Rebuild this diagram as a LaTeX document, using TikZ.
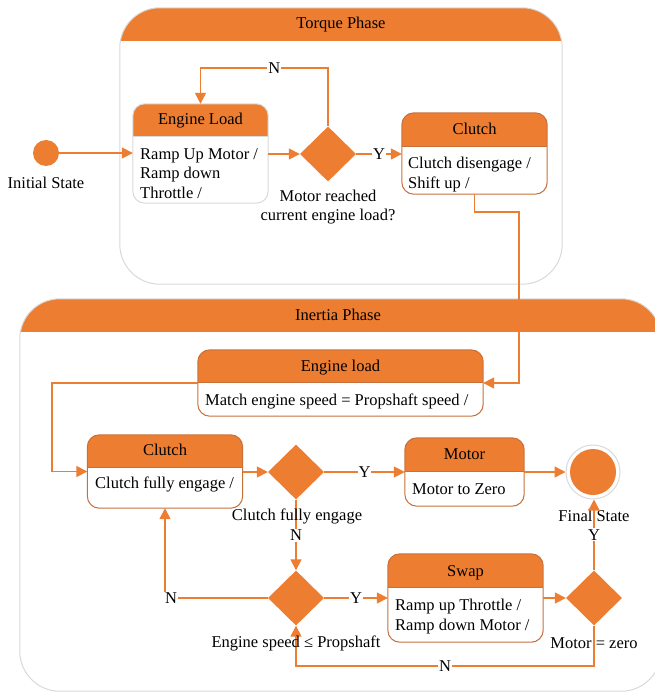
\documentclass[tikz,border=0pt]{standalone}
\usepackage{fontspec}
\setmainfont{Liberation Serif}
\usetikzlibrary{shapes.geometric, arrows.meta, positioning}

\definecolor{phase}{HTML}{ED7D31}
\definecolor{edge}{HTML}{C8703A}
\definecolor{frame}{HTML}{D9D9D9}
\newcommand{\fs}{\fontsize{16.5}{19.5}\selectfont}

\begin{document}
\begin{tikzpicture}[
    x=1pt, y=-1pt,
    font=\fs,
    box/.style={rectangle, inner sep=0pt},
    choice/.style={diamond, fill=phase, inner sep=0pt, minimum width=56pt, minimum height=55pt},
    flow/.style={-{Triangle[length=11pt,width=11pt]}, draw=phase, line width=1.6pt},
    lbl/.style={fill=white, inner sep=1pt, text height=11pt, text depth=0pt},
    title/.style={inner sep=0pt, text height=11pt, text depth=3.5pt},
    body/.style={anchor=north west, align=left, inner sep=0pt},
    note/.style={inner sep=0pt, align=center}
]
    \useasboundingbox (0,0) rectangle (654,692);

    % phases
    \node[box, minimum width=442, minimum height=276] (torque) at (341,146) {};
    \node[box, minimum width=641, minimum height=392] (inertia) at (340.5,495) {};
    \foreach \n in {torque, inertia} {
        \begin{scope}
            \clip[rounded corners=40] (\n.south west) rectangle (\n.north east);
            \fill[phase] (\n.north west) rectangle ([yshift=-33pt]\n.north east);
        \end{scope}
        \draw[frame, line width=1pt, rounded corners=40] (\n.south west) rectangle (\n.north east);
    }
    \node[title] (ttorque) at (341,25) {Torque Phase};
    \node[title] (tinertia) at (338,317) {Inertia Phase};

    % states
    \node[box, minimum width=135, minimum height=99] (el1) at (200.5,153.5) {};
    \node[box, minimum width=145, minimum height=81] (cl1) at (474.5,153.5) {};
    \node[box, minimum width=285, minimum height=66] (el2) at (340.5,383) {};
    \node[box, minimum width=155, minimum height=73] (cl2) at (165,471.5) {};
    \node[box, minimum width=119, minimum height=68] (mo) at (464.5,472) {};
    \node[box, minimum width=155, minimum height=88] (sw) at (465.5,598) {};
    \foreach \n/\h/\c in {el1/33/frame, cl1/34/edge, el2/33/edge, cl2/33/edge, mo/34/edge, sw/34/edge} {
        \begin{scope}
            \clip[rounded corners=12] (\n.south west) rectangle (\n.north east);
            \fill[phase] (\n.north west) rectangle ([yshift=-\h pt]\n.north east);
        \end{scope}
        \draw[\c, line width=1pt, rounded corners=12] (\n.south west) rectangle (\n.north east);
        \draw[\c, line width=1pt] ([yshift=-\h pt]\n.north west) -- ([yshift=-\h pt]\n.north east);
    }
    \node[title] (el1t) at (200.5,121) {Engine Load};
    \node[title] (cl1t) at (474.5,131) {Clutch};
    \node[title] (el2t) at (340.5,368) {Engine load};
    \node[title] (cl2t) at (165,452) {Clutch};
    \node[title] (mot) at (464.5,456) {Motor};
    \node[title] (swt) at (465.5,573) {Swap};

    \node[body] (el1b) at (140,148) {Ramp Up Motor /\\Ramp down\\Throttle /};
    \node[body] (cl1b) at (408,157) {Clutch disengage /\\Shift up /};
    \node[body] (el2b) at (205,394) {Match engine speed = Propshaft speed /};
    \node[body] (cl2b) at (95,477) {Clutch fully engage /};
    \node[body] (mob) at (412,483) {Motor to Zero};
    \node[body] (swb) at (395,599) {Ramp up Throttle /\\Ramp down Motor /};

    % start, end and choices
    \node[circle, fill=phase, inner sep=0pt, minimum size=26pt] (init) at (46,153) {};
    \node[circle, draw=frame, line width=1pt, inner sep=0pt, minimum size=54pt] (fin) at (593,472) {};
    \fill[phase] (fin.center) circle (23pt);
    \node[choice] (d1) at (328,154) {};
    \node[choice] (d2) at (296,472) {};
    \node[choice] (d3) at (296,598) {};
    \node[choice] (d4) at (594,598) {};

    \node[note] (linit) at (46,183) {Initial State};
    \node[note] (ld1) at (328,207) {Motor reached\\current engine load?};
    \node[note] (lfin) at (594,516) {Final State};

    % connectors
    \draw[flow] (init) -- (init -| el1.west);
    \draw[flow] (el1.east |- d1) -- (d1.west);
    \draw[flow] (d1.north) -- ++(0,-58) -| node[lbl, pos=0.21] (n1) {N} (el1.north);
    \draw[flow] (d1.east) -- node[lbl] (y1) {Y} (d1.east -| cl1.west);
    \coordinate (c1) at (519,212);
    \draw[flow] (cl1.south) |- (c1) |- (el2.east);
    \coordinate (c2) at (52,383);
    \draw[flow] (el2.west) -- (c2) |- (cl2.west);
    \draw[flow] (cl2.east |- d2) -- (d2.west);
    \draw[flow] (d2.east) -- node[lbl] (y2) {Y} (mo.west);
    \draw[flow] (mo.east) -- (fin.west);
    \draw[flow] (d2.south) -- node[lbl] (n2) {N} (d3.north);
    \draw[flow] (d3.west) -| node[lbl, pos=0.47] (n4) {N} (cl2.south);
    \draw[flow] (d3.east) -- node[lbl] (y3) {Y} (sw.west);
    \draw[flow] (sw.east) -- (d4.west);
    \draw[flow] (d4.north) -- node[lbl] (y4) {Y} (d4.north |- fin.south);
    \draw[flow] (d4.south) -- ++(0,40) -| node[lbl, pos=0.25] (n3) {N} (d3.south);

    \node[note] (ld2) at (297,516) {Clutch fully engage};
    \node[note] (ld3) at (296,643) {Engine speed ≤ Propshaft};
    \node[note] (ld4) at (594,643) {Motor = zero};
\end{tikzpicture}
\end{document}
